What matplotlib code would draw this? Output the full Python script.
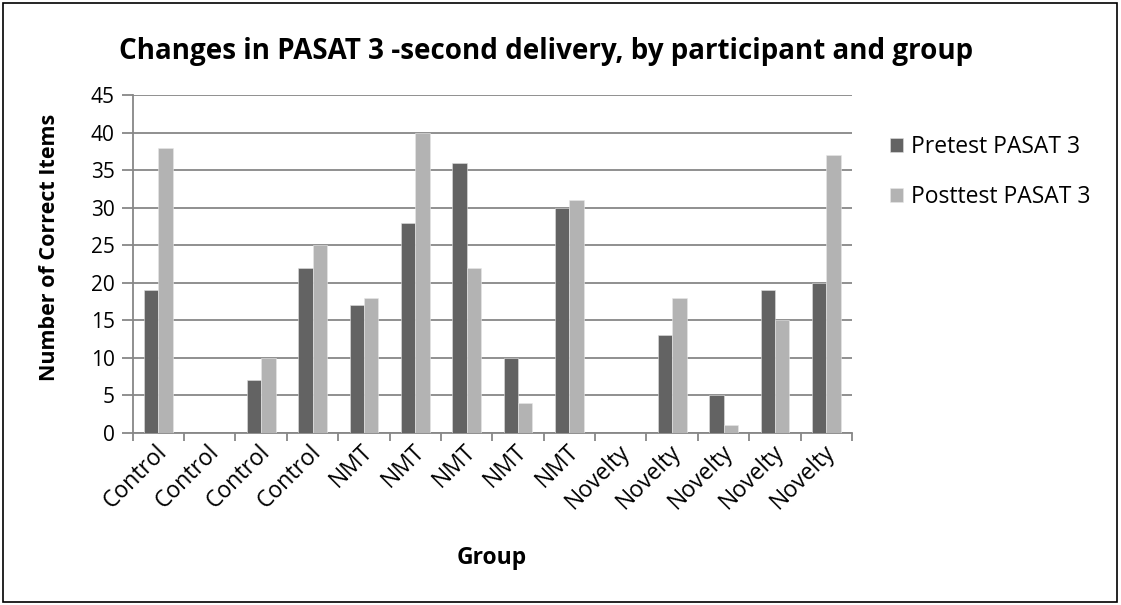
import matplotlib
matplotlib.use("Agg")
import matplotlib.pyplot as plt
import matplotlib.transforms as mtransforms
from matplotlib.patches import Rectangle
import numpy as np

plt.rcParams['font.family'] = ['Open Sans', 'DejaVu Sans']

groups = ["Control", "Control", "Control", "Control", "NMT", "NMT", "NMT", "NMT", "NMT",
          "Novelty", "Novelty", "Novelty", "Novelty", "Novelty"]
pretest = [19, 0, 7, 22, 17, 28, 36, 10, 30, 0, 13, 5, 19, 20]
posttest = [38, 0, 10, 25, 18, 40, 22, 4, 31, 0, 18, 1, 15, 37]
series_names = ["Pretest PASAT 3", "Posttest PASAT 3"]

DARK = "#636363"
LIGHT = "#b3b3b3"
GRID = "#878787"

W, H = 1121, 605
fig = plt.figure(figsize=(W / 100, H / 100), dpi=100)

# outer chart border
fig.patches.append(Rectangle((3 / W, 3 / H), 1114 / W, 599 / H, transform=fig.transFigure,
                             fill=False, edgecolor="black", linewidth=1.2))

ax = fig.add_axes([132.7 / W, 1 - 433 / H, (852 - 132.7) / W, (433 - 95) / H])

x = np.arange(len(groups))
bw = 0.28
b1 = ax.bar(x - bw / 2, pretest, bw, color=DARK, edgecolor="#e0e0e0", linewidth=0.4,
            label=series_names[0], zorder=3)
b2 = ax.bar(x + bw / 2, posttest, bw, color=LIGHT, edgecolor="#e8e8e8", linewidth=0.4,
            label=series_names[1], zorder=3)

ax.set_xlim(-0.5, len(groups) - 0.5)
ax.set_ylim(0, 45)
ax.set_yticks(np.arange(0, 46, 5))
ax.yaxis.grid(True, color=GRID, linewidth=1.3, zorder=0)
ax.set_axisbelow(True)

for s in ["top", "right"]:
    ax.spines[s].set_visible(False)
for s in ["left", "bottom"]:
    ax.spines[s].set_color(GRID)
    ax.spines[s].set_linewidth(1.3)

ax.tick_params(axis="y", length=8, width=1.3, color=GRID, labelsize=15, pad=5)
ax.set_xticks(x)
ax.set_xticklabels(groups, rotation=45, ha="right", rotation_mode="anchor", fontsize=16.5)
ax.tick_params(axis="x", which="major", length=0, pad=5)
ax.set_xticks(np.arange(-0.5, len(groups), 1), minor=True)
ax.tick_params(axis="x", which="minor", length=6, width=1.3, color=GRID)
offset = mtransforms.ScaledTranslation(-3 / 100, 0, fig.dpi_scale_trans)
for lbl in ax.get_xticklabels():
    lbl.set_transform(lbl.get_transform() + offset)

fig.text(50 / W, 1 - 247 / H, "Number of Correct Items", rotation=90,
         ha="center", va="center", fontsize=15.5, fontweight="bold")
fig.text(492 / W, 1 - 558 / H, "Group", ha="center", va="center",
         fontsize=16.5, fontweight="bold")

fig.text(546 / W, 1 - 52 / H, "Changes in PASAT 3 -second delivery, by participant and group",
         ha="center", va="center", fontsize=20, fontweight="bold")

leg = fig.legend(handles=[b1, b2], loc="upper left", bbox_to_anchor=(890 / W, 1 - 135 / H),
                 frameon=False, fontsize=16.5, handlelength=0.57, handleheight=0.57,
                 handletextpad=0.35, labelspacing=1.12, borderaxespad=0, borderpad=0)

fig.savefig("out.png", dpi=100)
